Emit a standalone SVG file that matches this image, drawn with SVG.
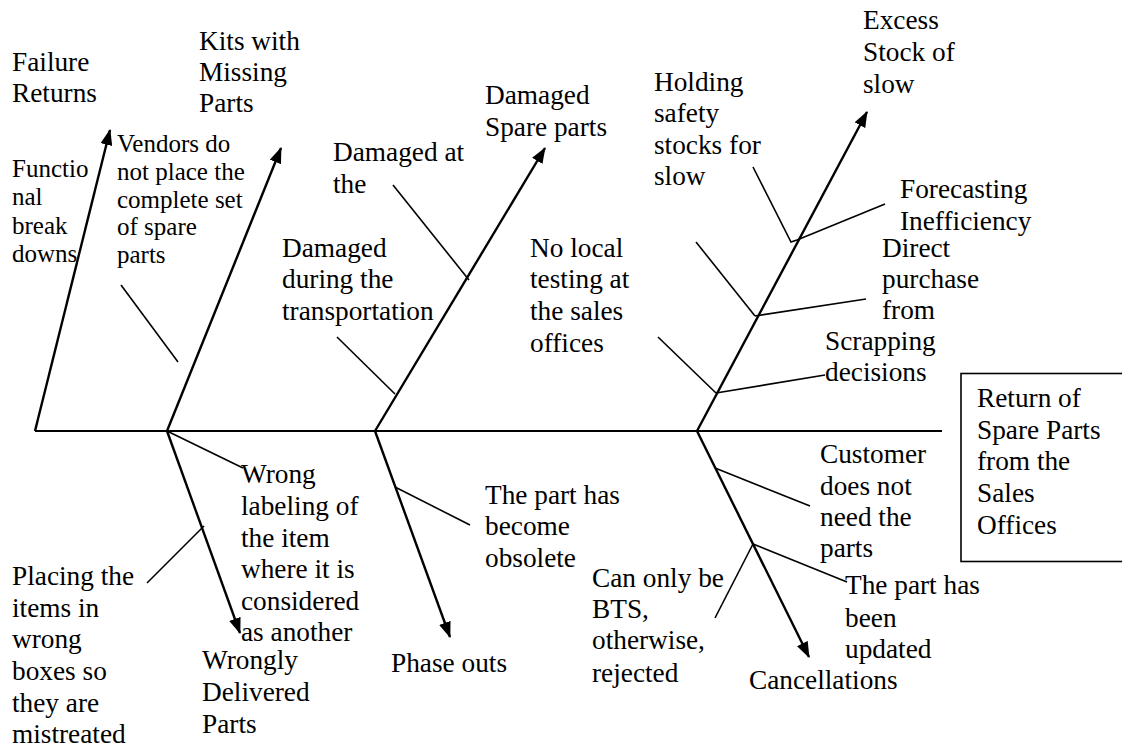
<svg xmlns="http://www.w3.org/2000/svg" width="1122" height="751" viewBox="0 0 1122 751" font-family="'Liberation Serif', 'Times New Roman', Tinos, 'DejaVu Serif', serif">
  <style>
    text { font-family: 'Liberation Serif', 'Times New Roman', Tinos, 'DejaVu Serif', serif; font-size: 27.3px; fill: #000; }
    text.small { font-size: 25px; }
    .spine { stroke: #000; stroke-width: 2; fill: none; }
    .bone { stroke: #000; stroke-width: 2.4; fill: none; }
    .cause { stroke: #000; stroke-width: 1.6; fill: none; }
    .box { stroke: #000; stroke-width: 1.6; fill: #fff; }
  </style>
  <defs>
    <marker id="arrow" viewBox="0 0 16 12" refX="15" refY="6" markerWidth="16" markerHeight="12" markerUnits="userSpaceOnUse" orient="auto">
      <path d="M0,0 L16,6 L0,12 z" fill="#000"/>
    </marker>
  </defs>

  <!-- connectors: spine, main bones and cause lines -->
  <g id="connectors">
    <line class="spine" x1="35" y1="431" x2="942" y2="431"/>
    <!-- upper bones -->
    <line class="bone" x1="35" y1="431" x2="110" y2="130" marker-end="url(#arrow)"/>
    <line class="bone" x1="167" y1="431" x2="281" y2="148" marker-end="url(#arrow)"/>
    <line class="bone" x1="375" y1="431" x2="545" y2="148" marker-end="url(#arrow)"/>
    <line class="bone" x1="697" y1="431" x2="867" y2="112" marker-end="url(#arrow)"/>
    <!-- lower bones -->
    <line class="bone" x1="167" y1="431" x2="240" y2="633" marker-end="url(#arrow)"/>
    <line class="bone" x1="375" y1="431" x2="450" y2="637" marker-end="url(#arrow)"/>
    <line class="bone" x1="697" y1="431" x2="809" y2="657" marker-end="url(#arrow)"/>
    <!-- cause lines -->
    <line class="cause" x1="121" y1="285" x2="178" y2="362"/>
    <line class="cause" x1="393" y1="185" x2="469" y2="280"/>
    <line class="cause" x1="337" y1="337" x2="395" y2="394"/>
    <line class="cause" x1="658" y1="337" x2="716" y2="393"/>
    <line class="cause" x1="716" y1="393" x2="825" y2="375"/>
    <line class="cause" x1="696" y1="242" x2="755" y2="316"/>
    <line class="cause" x1="755" y1="316" x2="866" y2="299"/>
    <polyline class="cause" points="753,167 791,242 797,240"/>
    <line class="cause" x1="797" y1="240" x2="885" y2="204"/>
    <line class="cause" x1="167" y1="431" x2="243" y2="468"/>
    <line class="cause" x1="204" y1="526" x2="147" y2="583"/>
    <line class="cause" x1="395" y1="487" x2="470" y2="525"/>
    <line class="cause" x1="715" y1="468" x2="810" y2="506"/>
    <line class="cause" x1="753" y1="544" x2="847" y2="582"/>
    <line class="cause" x1="753" y1="544" x2="715" y2="618"/>
  </g>

  <!-- effect box -->
  <g id="effect">
    <rect class="box" x="961" y="373.5" width="175" height="188"/>
    <text x="977"><tspan x="977" y="407">Return of</tspan><tspan x="977" y="439">Spare Parts</tspan><tspan x="977" y="470">from the</tspan><tspan x="977" y="502">Sales</tspan><tspan x="977" y="534">Offices</tspan></text>
  </g>

  <!-- category heads -->
  <g id="failure-returns">
    <text><tspan x="12" y="71">Failure</tspan><tspan x="12" y="102">Returns</tspan></text>
  </g>
  <g id="kits-missing">
    <text><tspan x="199" y="50">Kits with</tspan><tspan x="199" y="81">Missing</tspan><tspan x="199" y="112">Parts</tspan></text>
  </g>
  <g id="damaged-spare">
    <text><tspan x="485" y="104">Damaged</tspan><tspan x="485" y="136">Spare parts</tspan></text>
  </g>
  <g id="excess-stock">
    <text><tspan x="863" y="29">Excess</tspan><tspan x="863" y="61">Stock of</tspan><tspan x="863" y="93">slow</tspan></text>
  </g>
  <g id="wrongly-delivered">
    <text><tspan x="202" y="669">Wrongly</tspan><tspan x="202" y="701">Delivered</tspan><tspan x="202" y="733">Parts</tspan></text>
  </g>
  <g id="phase-outs">
    <text x="391" y="672">Phase outs</text>
  </g>
  <g id="cancellations">
    <text x="749" y="689">Cancellations</text>
  </g>

  <!-- causes -->
  <g id="functional-breakdowns">
    <text class="small"><tspan x="12" y="177">Functio</tspan><tspan x="12" y="205">nal</tspan><tspan x="12" y="234">break</tspan><tspan x="12" y="262">downs</tspan></text>
  </g>
  <g id="vendors">
    <text class="small"><tspan x="117" y="152">Vendors do</tspan><tspan x="117" y="180">not place the</tspan><tspan x="117" y="208">complete set</tspan><tspan x="117" y="235">of spare</tspan><tspan x="117" y="263">parts</tspan></text>
  </g>
  <g id="damaged-at">
    <text><tspan x="333" y="161">Damaged at</tspan><tspan x="333" y="193">the</tspan></text>
  </g>
  <g id="damaged-transport">
    <text><tspan x="282" y="257">Damaged</tspan><tspan x="282" y="288">during the</tspan><tspan x="282" y="320">transportation</tspan></text>
  </g>
  <g id="no-local-testing">
    <text><tspan x="530" y="257">No local</tspan><tspan x="530" y="288">testing at</tspan><tspan x="530" y="320">the sales</tspan><tspan x="530" y="352">offices</tspan></text>
  </g>
  <g id="holding-safety">
    <text><tspan x="654" y="91">Holding</tspan><tspan x="654" y="122">safety</tspan><tspan x="654" y="154">stocks for</tspan><tspan x="654" y="185">slow</tspan></text>
  </g>
  <g id="forecasting">
    <text><tspan x="900" y="198">Forecasting</tspan><tspan x="900" y="230">Inefficiency</tspan></text>
  </g>
  <g id="direct-purchase">
    <text><tspan x="882" y="257">Direct</tspan><tspan x="882" y="288">purchase</tspan><tspan x="882" y="319">from</tspan></text>
  </g>
  <g id="scrapping">
    <text><tspan x="825" y="350">Scrapping</tspan><tspan x="825" y="381">decisions</tspan></text>
  </g>
  <g id="wrong-labeling">
    <text><tspan x="241" y="483">Wrong</tspan><tspan x="241" y="515">labeling of</tspan><tspan x="241" y="547">the item</tspan><tspan x="241" y="578">where it is</tspan><tspan x="241" y="610">considered</tspan><tspan x="241" y="641">as another</tspan></text>
  </g>
  <g id="placing-items">
    <text><tspan x="12" y="585">Placing the</tspan><tspan x="12" y="617">items in</tspan><tspan x="12" y="648">wrong</tspan><tspan x="12" y="680">boxes so</tspan><tspan x="12" y="712">they are</tspan><tspan x="12" y="743">mistreated</tspan></text>
  </g>
  <g id="part-obsolete">
    <text><tspan x="485" y="504">The part has</tspan><tspan x="485" y="535">become</tspan><tspan x="485" y="567">obsolete</tspan></text>
  </g>
  <g id="customer-not-need">
    <text><tspan x="820" y="463">Customer</tspan><tspan x="820" y="495">does not</tspan><tspan x="820" y="526">need the</tspan><tspan x="820" y="557">parts</tspan></text>
  </g>
  <g id="part-updated">
    <text><tspan x="845" y="594">The part has</tspan><tspan x="845" y="627">been</tspan><tspan x="845" y="658">updated</tspan></text>
  </g>
  <g id="bts-only">
    <text><tspan x="592" y="587">Can only be</tspan><tspan x="592" y="618">BTS,</tspan><tspan x="592" y="649">otherwise,</tspan><tspan x="592" y="682">rejected</tspan></text>
  </g>
</svg>
